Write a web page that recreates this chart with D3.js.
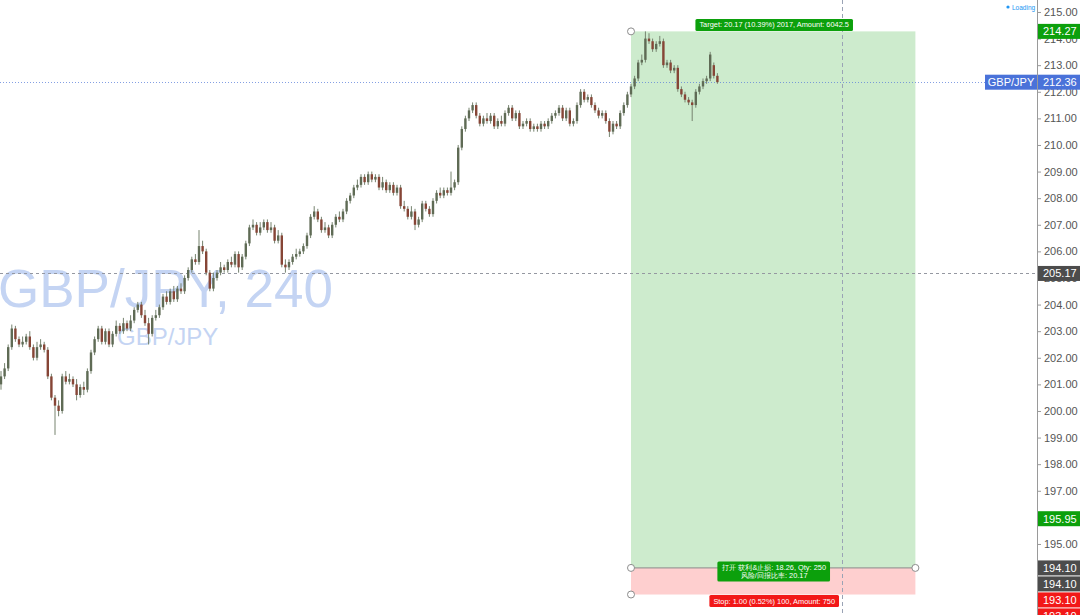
<!DOCTYPE html>
<html>
<head>
<meta charset="utf-8">
<script src="https://cdn.jsdelivr.net/npm/d3@7"></script>
<style>
  html, body { margin: 0; padding: 0; background: #fff; overflow: hidden; }
  svg { display: block; }
</style>
</head>
<body>
<div id="chart"></div>
<script>
// GBP/JPY 240 candles (oldest first)
const opens = [
  201.0, 201.3, 201.6, 202.4, 203.1, 202.7, 202.5, 202.6, 202.8, 202.4,
  202.0, 202.4, 202.5, 202.3, 201.3, 200.5, 200.2, 200.0, 201.3, 201.1,
  201.2, 201.0, 200.6, 200.9, 200.8, 201.5, 202.2, 202.7, 203.1, 202.6,
  203.0, 202.5, 202.9, 203.2, 203.0, 203.3, 203.1, 203.4, 203.8, 204.0,
  203.6, 203.3, 202.9, 203.5, 203.6, 203.9, 204.3, 204.1, 204.5, 204.2,
  204.6, 204.5, 205.0, 205.3, 205.7, 205.6, 206.2, 206.0, 205.2, 204.6,
  205.0, 205.2, 205.4, 205.3, 205.6, 205.5, 205.9, 205.4, 205.8, 206.3,
  206.9, 207.0, 206.7, 206.9, 207.1, 206.8, 206.9, 206.4, 206.6, 205.5,
  205.4, 205.6, 205.8, 205.9, 206.0, 206.2, 206.6, 207.3, 207.5, 207.2,
  206.8, 206.9, 206.6, 207.0, 207.3, 207.2, 207.5, 207.9, 208.1, 208.4,
  208.5, 208.8, 208.6, 208.9, 208.7, 208.8, 208.4, 208.6, 208.3, 208.5,
  208.2, 208.4, 207.7, 207.6, 207.3, 207.5, 207.0, 207.2, 207.8, 207.6,
  207.4, 207.9, 208.2, 208.1, 208.3, 208.2, 208.4, 208.6, 209.9, 210.6,
  211.0, 211.3, 211.5, 211.1, 210.8, 211.0, 210.9, 211.1, 210.7, 210.9,
  210.8, 211.2, 211.4, 211.0, 211.2, 210.7, 210.8, 210.9, 210.6, 210.7,
  210.6, 210.8, 210.7, 210.9, 211.1, 211.2, 211.4, 211.0, 211.3, 210.8,
  210.9, 211.5, 212.0, 211.7, 211.8, 211.5, 211.3, 211.1, 211.2, 210.9,
  210.5, 210.8, 210.7, 211.2, 211.5, 211.9, 212.2, 212.5, 213.1, 213.2,
  214.0, 213.9, 213.6, 213.8, 213.9, 213.0, 213.1, 212.8, 212.9, 212.1,
  211.9, 211.7, 211.6, 211.5, 212.0, 212.2, 212.4, 212.5, 213.0, 212.6
];
const highs = [
  201.5, 201.8, 202.5, 203.25, 203.2, 202.8, 202.8, 202.9, 203.0, 202.5,
  202.6, 202.7, 202.6, 202.4, 201.4, 200.6, 200.4, 201.4, 201.5, 201.4,
  201.3, 201.2, 201.0, 201.1, 201.6, 202.3, 202.8, 203.2, 203.2, 203.1,
  203.1, 203.0, 203.4, 203.3, 203.5, 203.4, 203.6, 203.9, 204.1, 204.1,
  203.8, 203.5, 203.6, 203.8, 204.0, 204.4, 204.5, 204.6, 204.7, 204.7,
  204.8, 205.1, 205.4, 205.8, 205.9, 206.8, 206.4, 206.1, 205.3, 205.2,
  205.3, 205.6, 205.5, 205.7, 205.8, 206.0, 206.0, 205.9, 206.4, 207.0,
  207.2, 207.1, 207.1, 207.2, 207.2, 207.1, 207.0, 206.8, 206.7, 205.7,
  205.7, 205.9, 206.1, 206.1, 206.3, 206.7, 207.4, 207.7, 207.6, 207.3,
  207.1, 207.0, 207.1, 207.4, 207.5, 207.6, 208.0, 208.2, 208.5, 208.7,
  208.9, 208.9, 209.0, 209.0, 208.9, 208.9, 208.8, 208.7, 208.6, 208.6,
  208.5, 208.5, 207.9, 207.7, 207.7, 207.6, 207.3, 207.9, 207.9, 207.7,
  208.0, 208.3, 208.4, 208.4, 208.4, 209.0, 208.7, 210.0, 210.7, 211.1,
  211.4, 211.6, 211.6, 211.2, 211.1, 211.2, 211.2, 211.2, 211.0, 211.1,
  211.3, 211.5, 211.5, 211.3, 211.3, 210.9, 211.0, 211.0, 210.8, 210.8,
  210.9, 210.9, 211.0, 211.2, 211.3, 211.5, 211.5, 211.4, 211.4, 211.0,
  211.6, 212.1, 212.1, 211.9, 211.9, 211.6, 211.4, 211.3, 211.3, 211.0,
  210.9, 210.9, 211.3, 211.6, 212.0, 212.3, 212.6, 213.2, 213.4, 214.27,
  214.2, 214.0, 213.9, 214.1, 214.0, 213.2, 213.2, 213.0, 213.0, 212.2,
  212.0, 211.8, 211.7, 212.1, 212.3, 212.5, 212.6, 213.5, 213.1, 212.7
];
const lows = [
  200.8, 201.2, 201.5, 202.3, 202.6, 202.4, 202.4, 202.5, 202.3, 201.9,
  201.9, 202.3, 202.2, 201.2, 200.4, 199.1, 199.8, 199.9, 201.0, 201.0,
  200.9, 200.4, 200.5, 200.6, 200.7, 201.4, 202.1, 202.6, 202.5, 202.5,
  202.4, 202.4, 202.8, 202.9, 202.9, 203.0, 203.0, 203.3, 203.7, 203.5,
  203.2, 202.5, 202.8, 203.4, 203.5, 203.8, 204.0, 204.0, 204.1, 204.1,
  204.4, 204.4, 204.9, 205.2, 205.5, 205.5, 205.9, 205.1, 204.5, 204.5,
  204.9, 205.1, 205.2, 205.2, 205.4, 205.4, 205.2, 205.3, 205.7, 206.2,
  206.8, 206.6, 206.6, 206.8, 206.7, 206.7, 206.3, 206.3, 205.4, 205.2,
  205.3, 205.5, 205.7, 205.8, 205.9, 206.1, 206.5, 207.2, 207.1, 206.7,
  206.7, 206.5, 206.5, 206.9, 207.1, 207.1, 207.4, 207.8, 208.0, 208.3,
  208.4, 208.5, 208.5, 208.6, 208.6, 208.3, 208.3, 208.2, 208.2, 208.1,
  208.1, 207.6, 207.5, 207.2, 207.2, 206.8, 206.9, 207.1, 207.5, 207.3,
  207.3, 207.8, 208.0, 208.0, 208.1, 208.1, 208.3, 208.5, 209.8, 210.5,
  210.9, 211.2, 211.0, 210.7, 210.7, 210.8, 210.8, 210.6, 210.6, 210.7,
  210.7, 211.1, 210.9, 210.9, 210.6, 210.6, 210.7, 210.5, 210.5, 210.5,
  210.5, 210.6, 210.6, 210.8, 211.0, 211.1, 210.9, 210.9, 210.7, 210.7,
  210.8, 211.4, 211.6, 211.6, 211.4, 211.2, 211.0, 211.0, 210.8, 210.3,
  210.4, 210.6, 210.6, 211.1, 211.4, 211.8, 212.1, 212.4, 213.0, 213.1,
  213.8, 213.5, 213.5, 213.7, 212.9, 212.9, 212.7, 212.7, 212.0, 211.8,
  211.6, 211.5, 210.9, 211.4, 211.9, 212.1, 212.3, 212.4, 212.5, 212.3
];
const closes = [
  201.3, 201.6, 202.4, 203.1, 202.7, 202.5, 202.6, 202.8, 202.4, 202.0,
  202.4, 202.5, 202.3, 201.3, 200.5, 200.2, 200.0, 201.3, 201.1, 201.2,
  201.0, 200.6, 200.9, 200.8, 201.5, 202.2, 202.7, 203.1, 202.6, 203.0,
  202.5, 202.9, 203.2, 203.0, 203.3, 203.1, 203.4, 203.8, 204.0, 203.6,
  203.3, 202.9, 203.5, 203.6, 203.9, 204.3, 204.1, 204.5, 204.2, 204.6,
  204.5, 205.0, 205.3, 205.7, 205.6, 206.2, 206.0, 205.2, 204.6, 205.0,
  205.2, 205.4, 205.3, 205.6, 205.5, 205.9, 205.4, 205.8, 206.3, 206.9,
  207.0, 206.7, 206.9, 207.1, 206.8, 206.9, 206.4, 206.6, 205.5, 205.4,
  205.6, 205.8, 205.9, 206.0, 206.2, 206.6, 207.3, 207.5, 207.2, 206.8,
  206.9, 206.6, 207.0, 207.3, 207.2, 207.5, 207.9, 208.1, 208.4, 208.5,
  208.8, 208.6, 208.9, 208.7, 208.8, 208.4, 208.6, 208.3, 208.5, 208.2,
  208.4, 207.7, 207.6, 207.3, 207.5, 207.0, 207.2, 207.8, 207.6, 207.4,
  207.9, 208.2, 208.1, 208.3, 208.2, 208.4, 208.6, 209.9, 210.6, 211.0,
  211.3, 211.5, 211.1, 210.8, 211.0, 210.9, 211.1, 210.7, 210.9, 210.8,
  211.2, 211.4, 211.0, 211.2, 210.7, 210.8, 210.9, 210.6, 210.7, 210.6,
  210.8, 210.7, 210.9, 211.1, 211.2, 211.4, 211.0, 211.3, 210.8, 210.9,
  211.5, 212.0, 211.7, 211.8, 211.5, 211.3, 211.1, 211.2, 210.9, 210.5,
  210.8, 210.7, 211.2, 211.5, 211.9, 212.2, 212.5, 213.1, 213.2, 214.0,
  213.9, 213.6, 213.8, 213.9, 213.0, 213.1, 212.8, 212.9, 212.1, 211.9,
  211.7, 211.6, 211.5, 212.0, 212.2, 212.4, 212.5, 213.4, 212.6, 212.36
];

// price axis ticks
const tickValues = [215, 214, 213, 212, 211, 210, 209, 208, 207, 206, 205, 204, 203, 202, 201, 200, 199, 198, 197, 196, 195];

// long position tool (bar index range + prices)
const toolStart = 175, toolEnd = 254;
const entryPrice = 194.10, targetPrice = 214.27, stopPrice = 193.10;
const targetText = "Target: 20.17 (10.39%) 2017, Amount: 6042.5";
const middleText = ["打开 获利&止损: 18.26, Qty: 250", "风险/回报比率: 20.17"];
const stopText = "Stop: 1.00 (0.52%) 100, Amount: 750";

// crosshair
const crossIndex = 233.6, crossPrice = 205.17;
const lastPrice = 212.36;

// price badges on the right scale
const badgeValues = [214.27, 212.36, 205.17, 195.95, 194.10, 194.10, 193.10, 193.10];
const badgeKinds = ["target", "last", "cross", "green", "entry", "entry", "stop", "stop"];

const symbolTitle = "GBP/JPY, 240";
const symbolName = "GBP/JPY";

const width = 1080, height = 615;
const axisX = 1037;
const font = "'Liberation Sans', Arial, sans-serif";

const x = d3.scaleLinear().domain([0, closes.length - 1]).range([1, 717.4]);
const y = d3.scaleLinear().domain([192.33, 215.45]).range([height, 0]);

const svg = d3.select("#chart").append("svg")
    .attr("width", width)
    .attr("height", height)
    .style("font-family", font);

// watermark
svg.append("text")
    .attr("x", -2).attr("y", 307)
    .attr("font-size", 53)
    .attr("textLength", 335)
    .attr("fill", "#c4d4f3")
    .text(symbolTitle);
svg.append("text")
    .attr("x", 117).attr("y", 345)
    .attr("font-size", 24)
    .attr("fill", "#c4d4f3")
    .text(symbolName);

// position tool areas
const tx0 = x(toolStart), tx1 = x(toolEnd);
svg.append("rect")
    .attr("x", tx0).attr("y", y(targetPrice))
    .attr("width", tx1 - tx0).attr("height", y(entryPrice) - y(targetPrice))
    .attr("fill", "#cdebcd");
svg.append("rect")
    .attr("x", tx0).attr("y", y(entryPrice))
    .attr("width", tx1 - tx0).attr("height", y(stopPrice) - y(entryPrice))
    .attr("fill", "#fecfcf");
svg.append("line")
    .attr("x1", tx0).attr("x2", tx1)
    .attr("y1", y(entryPrice)).attr("y2", y(entryPrice))
    .attr("stroke", "#8a8a8a").attr("stroke-width", 1);

// last price line
svg.append("line")
    .attr("x1", 0).attr("x2", axisX)
    .attr("y1", Math.round(y(lastPrice)) + 0.5).attr("y2", Math.round(y(lastPrice)) + 0.5)
    .attr("stroke", "#5b7fd9").attr("stroke-opacity", 0.75)
    .attr("stroke-dasharray", "1,2");

// crosshair
svg.append("line")
    .attr("x1", 0).attr("x2", axisX)
    .attr("y1", Math.round(y(crossPrice)) + 0.5).attr("y2", Math.round(y(crossPrice)) + 0.5)
    .attr("stroke", "#9598a1").attr("stroke-dasharray", "3,3");
svg.append("line")
    .attr("x1", Math.round(x(crossIndex)) + 0.5).attr("x2", Math.round(x(crossIndex)) + 0.5)
    .attr("y1", 0).attr("y2", height)
    .attr("stroke", "#9aa3b5").attr("stroke-dasharray", "4,3");

// candles
const candles = d3.range(closes.length).map(i => ({
  i: i, o: opens[i], h: highs[i], l: lows[i], c: closes[i]
}));
const upColor = "#5f6b55", downColor = "#864536", wickColor = "#76836f";

const gCandle = svg.append("g");
gCandle.selectAll("line")
  .data(candles)
  .join("line")
    .attr("x1", d => x(d.i)).attr("x2", d => x(d.i))
    .attr("y1", d => y(d.h)).attr("y2", d => y(d.l))
    .attr("stroke", wickColor).attr("stroke-width", 1);
gCandle.selectAll("rect")
  .data(candles)
  .join("rect")
    .attr("x", d => x(d.i) - 1.2)
    .attr("width", 2.4)
    .attr("y", d => y(Math.max(d.o, d.c)))
    .attr("height", d => Math.max(1, Math.abs(y(d.o) - y(d.c))))
    .attr("fill", d => d.c >= d.o ? upColor : downColor);

// tool handles
const handles = [[toolStart, targetPrice], [toolStart, entryPrice], [toolEnd, entryPrice], [toolStart, stopPrice]];
svg.append("g").selectAll("circle")
  .data(handles)
  .join("circle")
    .attr("cx", d => x(d[0])).attr("cy", d => y(d[1]))
    .attr("r", 3.5)
    .attr("fill", "#fff").attr("stroke", "#8c8c8c").attr("stroke-width", 1);

// tool labels
const tcx = (tx0 + tx1) / 2 + 1;
function toolLabel(lines, cy, fill) {
  const g = svg.append("g");
  const t = g.append("text")
      .attr("text-anchor", "middle")
      .attr("font-size", 7.4)
      .attr("fill", "#fff");
  lines.forEach((s, k) => {
    t.append("tspan")
      .attr("x", tcx)
      .attr("y", cy + (k - (lines.length - 1) / 2) * 8 + 2.6)
      .text(s);
  });
  const bb = t.node().getBBox();
  g.insert("rect", "text")
      .attr("x", bb.x - 4).attr("y", bb.y - 1.5)
      .attr("width", bb.width + 8).attr("height", bb.height + 3)
      .attr("rx", 1.5)
      .attr("fill", fill);
}
toolLabel([targetText], y(targetPrice) - 6.5, "#0ca00c");
toolLabel(middleText, y(entryPrice) + 3.5, "#0ca00c");
toolLabel([stopText], y(stopPrice) + 6.5, "#f21818");

// right price axis
svg.append("line")
    .attr("x1", axisX + 0.5).attr("x2", axisX + 0.5)
    .attr("y1", 0).attr("y2", height)
    .attr("stroke", "#9a9a9a");

const axis = d3.axisRight(y)
    .tickValues(tickValues)
    .tickSize(3)
    .tickPadding(3)
    .tickFormat(d3.format(".2f"));
const gAxis = svg.append("g")
    .attr("transform", `translate(${axisX + 1},0)`)
    .call(axis);
gAxis.select(".domain").remove();
gAxis.selectAll(".tick line").attr("stroke", "#9a9a9a");
gAxis.selectAll(".tick text")
    .attr("font-family", font)
    .attr("font-size", 11)
    .attr("fill", "#555");

// price badges, stacked downward when they overlap
const badgeFill = {target: "#0ca00c", last: "#4a72d9", cross: "#4c4c4c", green: "#0ca00c", entry: "#4c4c4c", stop: "#f21818"};
const badgeH = 16;
let prevY = -Infinity;
const badges = badgeValues.map((v, k) => {
  let cy = y(v);
  if (cy < prevY + badgeH) cy = prevY + badgeH;
  prevY = cy;
  return {v: v, kind: badgeKinds[k], cy: cy};
});
const gBadge = svg.append("g").selectAll("g")
  .data(badges)
  .join("g")
    .attr("transform", d => `translate(${axisX + 1},${d.cy})`);
gBadge.append("rect")
    .attr("x", 0).attr("y", -badgeH / 2 + 0.5)
    .attr("width", width - axisX).attr("height", badgeH - 1)
    .attr("fill", d => badgeFill[d.kind]);
gBadge.append("text")
    .attr("x", 5).attr("dy", "0.36em")
    .attr("font-size", 11)
    .attr("fill", "#fff")
    .text(d => d.v.toFixed(2));

// symbol tag next to the last price
const gTag = svg.append("g")
    .attr("transform", `translate(${axisX - 52},${y(lastPrice)})`);
gTag.append("rect")
    .attr("x", 0).attr("y", -7.5)
    .attr("width", 52).attr("height", 15)
    .attr("fill", "#4a72d9");
gTag.append("text")
    .attr("x", 26).attr("dy", "0.36em")
    .attr("text-anchor", "middle")
    .attr("font-size", 11)
    .attr("fill", "#fff")
    .text(symbolName);

// loading indicator
svg.append("circle")
    .attr("cx", 1008).attr("cy", 7).attr("r", 1.6)
    .attr("fill", "#2196f3");
svg.append("text")
    .attr("x", 1012).attr("y", 9.5)
    .attr("font-size", 6.5)
    .attr("fill", "#2196f3")
    .text("Loading");
</script>
</body>
</html>
